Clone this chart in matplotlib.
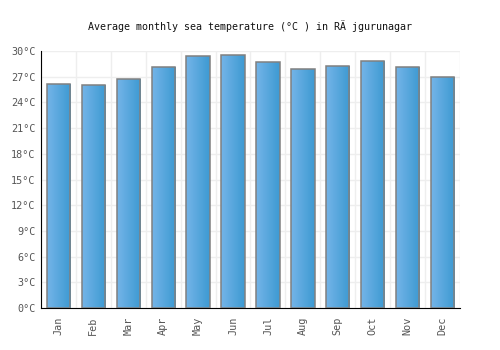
import matplotlib
matplotlib.use("Agg")
import matplotlib.pyplot as plt
import numpy as np
from matplotlib.colors import LinearSegmentedColormap

months = ["Jan", "Feb", "Mar", "Apr", "May", "Jun", "Jul", "Aug", "Sep", "Oct", "Nov", "Dec"]
temps = [26.2, 26.0, 26.8, 28.1, 29.4, 29.6, 28.7, 27.9, 28.3, 28.9, 28.2, 27.0]
yticks = [0, 3, 6, 9, 12, 15, 18, 21, 24, 27, 30]
ytick_labels = [f"{v}°C" for v in yticks]
title = "Average monthly sea temperature (°C ) in RÄ jgurunagar"

plt.rcParams['font.family'] = ['DejaVu Sans Mono', 'DejaVu Sans']

fig = plt.figure(figsize=(5, 3.5), dpi=100)
ax = fig.add_axes([0.082, 0.12, 0.838, 0.734])

x = np.arange(len(months))
bars = ax.bar(x, temps, width=0.67, color="none", edgecolor="#808080", linewidth=1.1, zorder=3)

cmap = LinearSegmentedColormap.from_list("g", ["#74b4e8", "#3d9ad2"])
grad = np.linspace(0, 1, 64).reshape(1, -1)
for b in bars:
    x0, w, h = b.get_x(), b.get_width(), b.get_height()
    im = ax.imshow(grad, cmap=cmap, aspect="auto", extent=[x0, x0 + w, 0, h], zorder=2)
    im.set_clip_path(b)

ax.set_xlim(-0.5, len(months) - 0.5)
ax.set_ylim(0, 30)
ax.set_yticks(yticks)
ax.set_yticklabels(ytick_labels)
ax.set_xticks(x)
ax.set_xticklabels(months, rotation=90)
ax.set_xticks(np.arange(-0.5, len(months), 1), minor=True)
ax.grid(True, which="minor", axis="x", color="#eeeeee", linewidth=1, zorder=0)
ax.grid(True, which="major", axis="y", color="#eeeeee", linewidth=1, zorder=0)
ax.grid(False, which="major", axis="x")
for s in ["top", "right"]:
    ax.spines[s].set_visible(False)
ax.spines["left"].set_color("black")
ax.spines["bottom"].set_color("black")
ax.tick_params(axis="both", which="both", length=0, labelsize=7.3, colors="#555555")
ax.tick_params(axis="x", pad=6)
ax.tick_params(axis="y", pad=4)
fig.text(0.5, 0.925, title, ha="center", va="center", fontsize=7.2, color="#111111")

fig.savefig("out.png", dpi=100)
